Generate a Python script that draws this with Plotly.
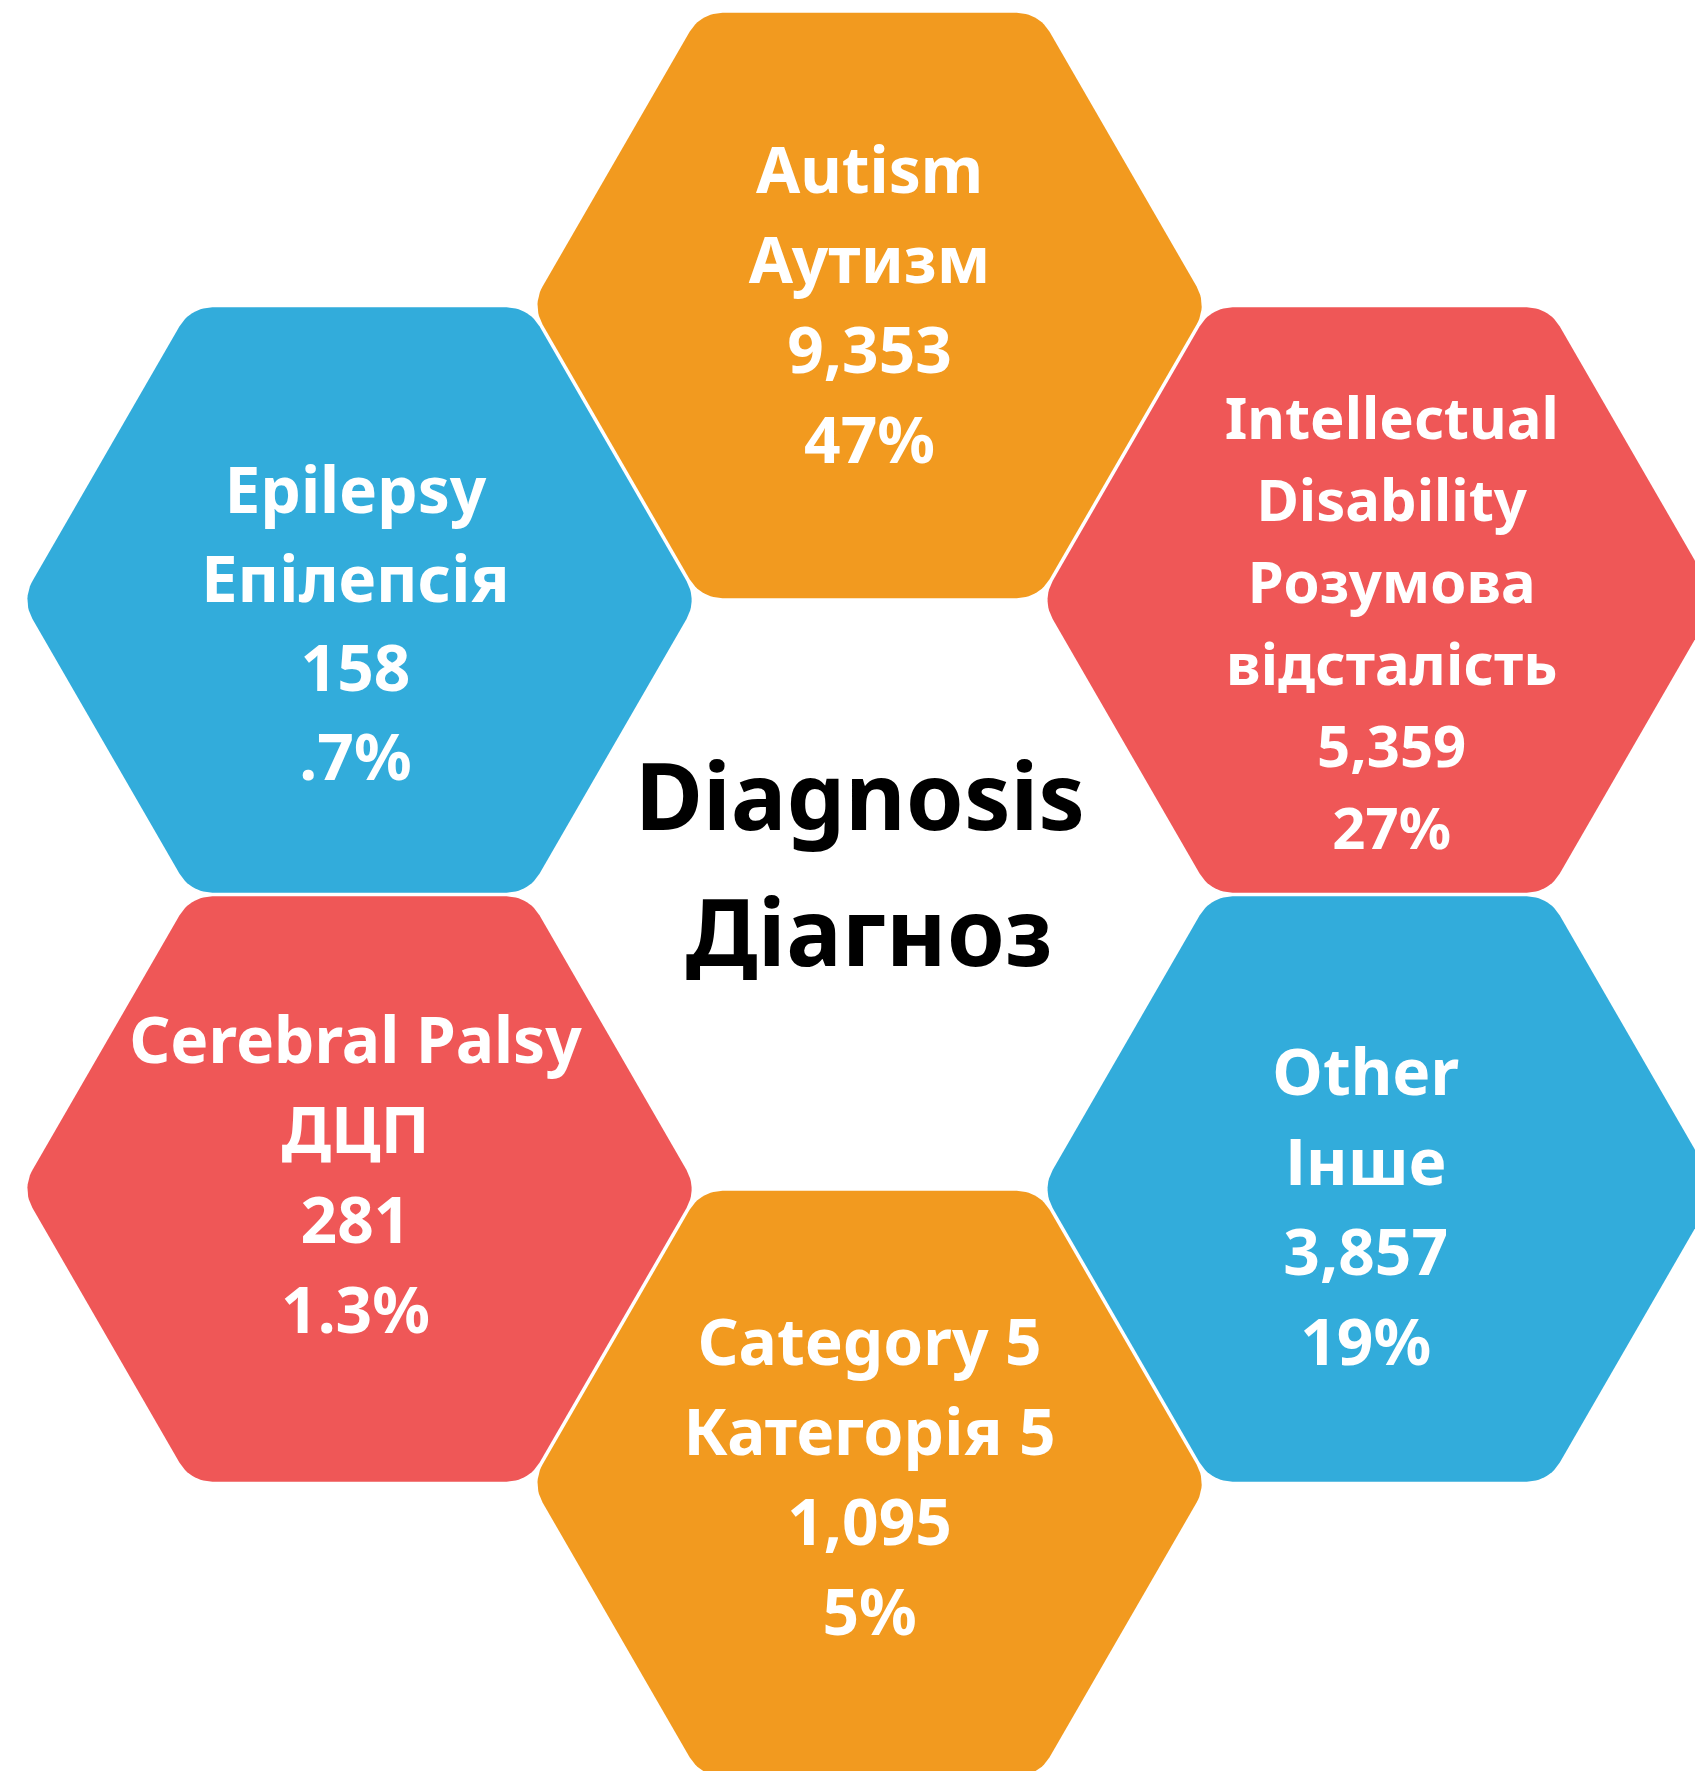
import numpy as np
import plotly.graph_objects as go

# data
labels_en = [["Autism"], ["Intellectual", "Disability"], ["Other"],
             ["Category 5"], ["Cerebral Palsy"], ["Epilepsy"]]
labels_uk = [["Аутизм"], ["Розумова", "відсталість"], ["Інше"],
             ["Категорія 5"], ["ДЦП"], ["Епілепсія"]]
counts = [9353, 5359, 3857, 1095, 281, 158]
percents = ["47%", "27%", "19%", "5%", "1.3%", ".7%"]
title_lines = ["Diagnosis", "Діагноз"]

# styling / layout
colors = ["#F29A1F", "#EF5757", "#32ACDB", "#F29A1F", "#EF5757", "#32ACDB"]
angles = [90, 30, -30, -90, -150, 150]          # position of each hex in the ring
text_shift = [(0, 6), (12, 29), (-14, 25), (0, 0), (-4, -7), (-4, 30)]
font_sizes = [64, 58, 64, 64, 64, 64]
line_gaps = [90, 82, 90, 90, 90, 89]

W, H = 1695, 1771
cx, cy = 869.6, 894.5
ring = 589
R, rc = 338, 38


def rounded_hex(x0, y0, R, rc, n=14):
    r_in = R - rc / np.cos(np.pi / 6)
    xs, ys = [], []
    for k in range(6):
        a = k * np.pi / 3
        vx, vy = x0 + r_in * np.cos(a), y0 + r_in * np.sin(a)
        t = np.linspace(a - np.pi / 6, a + np.pi / 6, n)
        xs += list(vx + rc * np.cos(t))
        ys += list(vy + rc * np.sin(t))
    return xs + xs[:1], ys + ys[:1]


fig = go.Figure()

for i in range(len(counts)):
    a = np.radians(angles[i])
    hx = cx + ring * np.cos(a)
    hy = cy - ring * np.sin(a)
    xs, ys = rounded_hex(hx, hy, R, rc)
    fig.add_trace(go.Scatter(x=xs, y=ys, fill="toself", fillcolor=colors[i],
                             mode="lines", line=dict(width=0),
                             hoverinfo="skip", showlegend=False))

    lines = labels_en[i] + labels_uk[i] + [f"{counts[i]:,}", percents[i]]
    n = len(lines)
    tx = hx + text_shift[i][0]
    ty = [hy + text_shift[i][1] + (j - (n - 1) / 2) * line_gaps[i] for j in range(n)]
    fig.add_trace(go.Scatter(x=[tx] * n, y=ty, text=lines, mode="text",
                             textposition="middle center",
                             textfont=dict(family="Noto Sans", size=font_sizes[i],
                                           color="white", weight=700),
                             hoverinfo="skip", showlegend=False))

# centre title
fig.add_trace(go.Scatter(x=[860, 869], y=[cy - 20 - 68, cy - 20 + 68], text=title_lines,
                         mode="text", textposition="middle center",
                         textfont=dict(family="Noto Sans", size=93, color="black", weight=700),
                         hoverinfo="skip", showlegend=False))

fig.update_layout(
    width=W, height=H,
    margin=dict(l=0, r=0, t=0, b=0),
    paper_bgcolor="white", plot_bgcolor="white",
    xaxis=dict(range=[0, W], visible=False, fixedrange=True),
    yaxis=dict(range=[H, 0], visible=False, fixedrange=True),
    showlegend=False
)

# drop the browser's default page margin so the figure sits at the window corner
fig.write_html("out.html", config={"displayModeBar": False},
               post_script="document.body.style.margin='0px';")
